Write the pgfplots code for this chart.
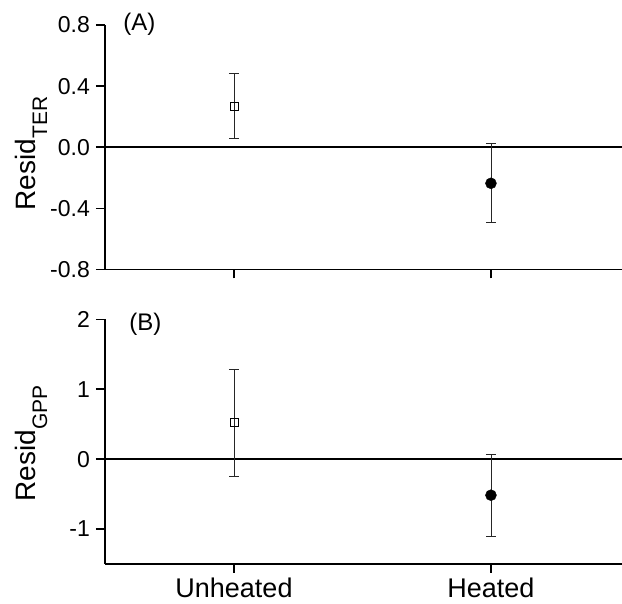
\documentclass[border=0pt]{standalone}
\usepackage{pgfplots}
\pgfplotsset{compat=1.18}
\usepackage{fontspec}
\setmainfont{Liberation Sans}

\pgfplotsset{
  panel/.style={
    scale only axis, width=517pt, height=244.5pt,
    xmin=-0.502, xmax=1.51,
    axis x line=bottom, axis y line=left,
    axis line style={-, line width=1.6pt, black},
    tick align=outside, major tick length=9pt,
    tick style={line width=1.5pt, black},
    xtick={0,1},
    /pgf/number format/assume math mode=true,
    y tick label style={font=\fontsize{23}{23}\selectfont, inner sep=0pt, anchor=east, xshift=-6pt},
    x tick label style={font=\fontsize{27}{27}\selectfont, inner sep=0pt, yshift=-5pt},
    ylabel style={font=\fontsize{28}{28}\selectfont, anchor=base},
    clip=false,
  },
  ebar/.style={
    error bars/.cd, y dir=both, y explicit,
    error bar style={line width=0.8pt, black!85},
    error mark options={rotate=90, mark size=5pt, line width=0.8pt, black!85},
  },
}

\begin{document}
\begin{tikzpicture}
\useasboundingbox (0,0) rectangle (622pt,604pt);

% (A) TER
\begin{axis}[panel, at={(105pt,334.5pt)}, anchor=south west,
  ymin=-0.8, ymax=0.8,
  ytick={-0.8,-0.4,0,0.4,0.8},
  yticklabels={-0.8,-0.4,0.0,0.4,0.8},
  xticklabels={},
  ylabel={Resid\raisebox{-12pt}{\fontsize{21}{21}\selectfont TER}},
  ylabel style={at={(axis description cs:-0.135,0.474)}},
]
\addplot[line width=1.6pt, black, no marks] coordinates {(-0.502,0) (1.51,0)};
\addplot[only marks, mark=square, mark size=4pt, mark options={fill=white, line width=0.8pt}, ebar]
  coordinates {(0,0.27) +- (0,0.215)};
\addplot[only marks, mark=*, mark size=5.5pt, ebar]
  coordinates {(1,-0.236) +- (0,0.259)};
\node[anchor=north west, font=\fontsize{24}{24}\selectfont, inner sep=0pt]
  at (rel axis cs:0.035,1.049) {(A)};
\end{axis}

% (B) GPP
\begin{axis}[panel, at={(105pt,40pt)}, anchor=south west,
  height=244.7pt,
  ymin=-1.5, ymax=2,
  ytick={-1,0,1,2},
  xticklabels={Unheated,Heated},
  ylabel={Resid\raisebox{-12pt}{\fontsize{21}{21}\selectfont GPP}},
  ylabel style={at={(axis description cs:-0.135,0.492)}},
]
\addplot[line width=1.6pt, black, no marks] coordinates {(-0.502,0) (1.51,0)};
\addplot[only marks, mark=square, mark size=4pt, mark options={fill=white, line width=0.8pt}, ebar]
  coordinates {(0,0.52) +- (0,0.77)};
\addplot[only marks, mark=*, mark size=5.5pt, ebar]
  coordinates {(1,-0.516) +- (0,0.59)};
\node[anchor=north west, font=\fontsize{24}{24}\selectfont, inner sep=0pt]
  at (rel axis cs:0.047,1.026) {(B)};
\end{axis}
\end{tikzpicture}
\end{document}
